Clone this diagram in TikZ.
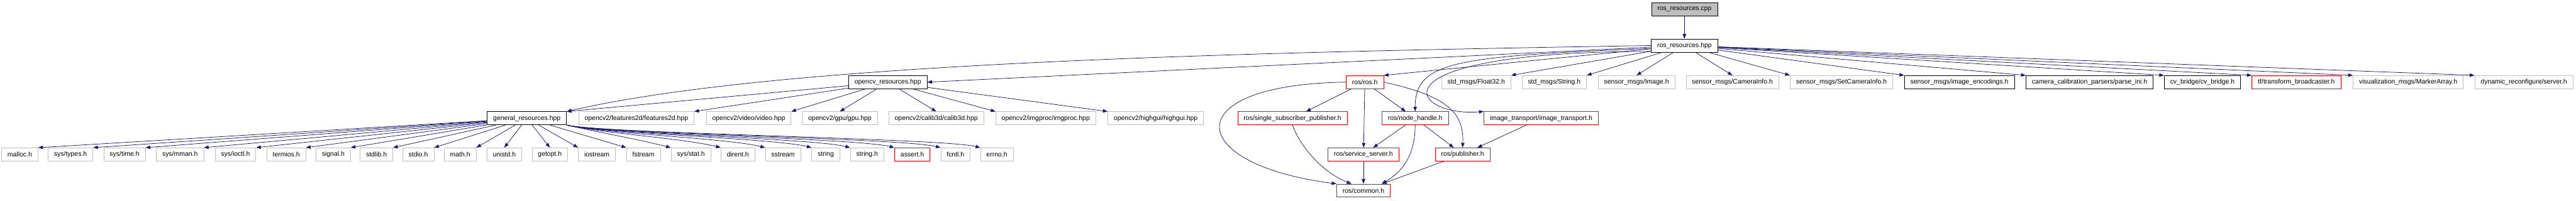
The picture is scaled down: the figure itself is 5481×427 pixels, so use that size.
\documentclass[tikz,border=0pt]{standalone}
\usepackage{fontspec}
\setmainfont{Liberation Sans}
\usetikzlibrary{arrows.meta}
\definecolor{edgeblue}{HTML}{191970}
\definecolor{extgray}{HTML}{BFBFBF}
\tikzstyle{file}   = [draw, rectangle, minimum height=21pt, inner xsep=9.5pt, inner ysep=0pt, line width=0.75pt, fill=white, font=\fontsize{10.5}{12}\selectfont]
\tikzstyle{root}   = [file, draw=black, fill=extgray]
\tikzstyle{doc}    = [file, draw=black]
\tikzstyle{ext}    = [file, draw=extgray]
\tikzstyle{trunc}  = [file, draw=red]
\tikzstyle{arrow}  = [draw=edgeblue, line width=0.75pt, ->, >={Triangle[length=7.5pt,width=5.5pt]}]

\begin{document}
\begin{tikzpicture}[x=0.75pt, y=-0.75pt]
\useasboundingbox (0,0) rectangle (5481,427);

% top
\node[root] (CPP) at (3584,20) {ros\_resources.cpp};
\node[doc]  (HPP) at (3584,97) {ros\_resources.hpp};

% direct includes of ros_resources.hpp
\node[doc]   (OCV)  at (1889,175) {opencv\_resources.hpp};
\node[trunc] (ROS)  at (2904,175) {ros/ros.h};
\node[ext]   (F32)  at (3141,175) {std\_msgs/Float32.h};
\node[ext]   (STR)  at (3307,175) {std\_msgs/String.h};
\node[ext]   (IMG)  at (3482,175) {sensor\_msgs/Image.h};
\node[ext]   (CAM)  at (3686,175) {sensor\_msgs/CameraInfo.h};
\node[ext]   (SCAM) at (3918,175) {sensor\_msgs/SetCameraInfo.h};
\node[doc]   (ENC)  at (4169,175) {sensor\_msgs/image\_encodings.h};
\node[doc]   (INI)  at (4446,175) {camera\_calibration\_parsers/parse\_ini.h};
\node[doc]   (CVB)  at (4686,175) {cv\_bridge/cv\_bridge.h};
\node[trunc] (TF)   at (4886,175) {tf/transform\_broadcaster.h};
\node[ext]   (MRK)  at (5124,175) {visualization\_msgs/MarkerArray.h};
\node[ext]   (DYN)  at (5370,175) {dynamic\_reconfigure/server.h};

% third row
\node[doc]   (GEN) at (1121,252) {general\_resources.hpp};
\node[ext]   (F2D) at (1354,252) {opencv2/features2d/features2d.hpp};
\node[ext]   (VID) at (1593,252) {opencv2/video/video.hpp};
\node[ext]   (GPU) at (1787,252) {opencv2/gpu/gpu.hpp};
\node[ext]   (C3D) at (1992,252) {opencv2/calib3d/calib3d.hpp};
\node[ext]   (IMP) at (2225,252) {opencv2/imgproc/imgproc.hpp};
\node[ext]   (HGU) at (2459,252) {opencv2/highgui/highgui.hpp};
\node[trunc] (SS)  at (2750,252) {ros/single\_subscriber\_publisher.h};
\node[trunc] (NH)  at (3011,252) {ros/node\_handle.h};
\node[trunc] (IT)  at (3279,252) {image\_transport/image\_transport.h};

% system headers
\node[ext]   (MALLOC)   at (42,329)   {malloc.h};
\node[ext]   (SYSTYPES) at (150,329)  {sys/types.h};
\node[ext]   (SYSTIME)  at (265,329)  {sys/time.h};
\node[ext]   (SYSMMAN)  at (383,329)  {sys/mman.h};
\node[ext]   (SYSIOCTL) at (501,329)  {sys/ioctl.h};
\node[ext]   (TERMIOS)  at (609,329)  {termios.h};
\node[ext]   (SIGNAL)   at (709,329)  {signal.h};
\node[ext]   (STDLIB)   at (801,329)  {stdlib.h};
\node[ext]   (STDIO)    at (890,329)  {stdio.h};
\node[ext]   (MATH)     at (979,329)  {math.h};
\node[ext]   (UNISTD)   at (1073,329) {unistd.h};
\node[ext]   (GETOPT)   at (1170,329) {getopt.h};
\node[ext]   (IOSTREAM) at (1270,329) {iostream};
\node[ext]   (FSTREAM)  at (1369,329) {fstream};
\node[ext]   (SYSSTAT)  at (1470,329) {sys/stat.h};
\node[ext]   (DIRENT)   at (1570,329) {dirent.h};
\node[ext]   (SSTREAM)  at (1666,329) {sstream};
\node[ext]   (STRING)   at (1757,329) {string};
\node[ext]   (STRINGH)  at (1845,329) {string.h};
\node[trunc] (ASSERT)   at (1941,329) {assert.h};
\node[ext]   (FCNTL)    at (2033,329) {fcntl.h};
\node[ext]   (ERRNO)    at (2121,329) {errno.h};

% ros internals
\node[trunc] (SRV) at (2901,329) {ros/service\_server.h};
\node[trunc] (PUB) at (3112,329) {ros/publisher.h};
\node[trunc] (COM) at (2901,406) {ros/common.h};

\draw[arrow] (CPP) -- (HPP);

\draw[arrow] (HPP) -- (OCV.east);
\draw[arrow] (HPP.west) .. controls (2600,112) and (1650,135) .. (GEN.north east);
\draw[arrow] (HPP) -- (ROS.north east);
\draw[arrow] (HPP.185) .. controls (3100,120) and (3011,130) .. (NH.north);
\draw[arrow] (HPP.190) .. controls (2900,110) and (3000,250) .. (IT.north west);
\draw[arrow] (HPP) -- (F32.north east);
\draw[arrow] (HPP) -- (STR.north east);
\draw[arrow] (HPP) -- (IMG.north);
\draw[arrow] (HPP) -- (CAM.north);
\draw[arrow] (HPP) -- (SCAM.north west);
\draw[arrow] (HPP) -- (ENC.north west);
\draw[arrow] (HPP) -- (INI.north west);
\draw[arrow] (HPP) -- (CVB.north west);
\draw[arrow] (HPP) -- (TF.north west);
\draw[arrow] (HPP) -- (MRK.north west);
\draw[arrow] (HPP) -- (DYN.north west);

\draw[arrow] (OCV) -- (GEN.north east);
\draw[arrow] (OCV) -- (F2D.north east);
\draw[arrow] (OCV) -- (VID.north east);
\draw[arrow] (OCV) -- (GPU.north);
\draw[arrow] (OCV) -- (C3D.north);
\draw[arrow] (OCV) -- (IMP.north west);
\draw[arrow] (OCV) -- (HGU.north west);

\draw[arrow] (GEN) -- (MALLOC.north east);
\draw[arrow] (GEN) -- (SYSTYPES.north east);
\draw[arrow] (GEN) -- (SYSTIME.north east);
\draw[arrow] (GEN) -- (SYSMMAN.north east);
\draw[arrow] (GEN) -- (SYSIOCTL.north east);
\draw[arrow] (GEN) -- (TERMIOS.north east);
\draw[arrow] (GEN) -- (SIGNAL.north east);
\draw[arrow] (GEN) -- (STDLIB.north east);
\draw[arrow] (GEN) -- (STDIO.north east);
\draw[arrow] (GEN) -- (MATH.north east);
\draw[arrow] (GEN) -- (UNISTD.north);
\draw[arrow] (GEN) -- (GETOPT.north);
\draw[arrow] (GEN) -- (IOSTREAM.north west);
\draw[arrow] (GEN) -- (FSTREAM.north west);
\draw[arrow] (GEN.south east) .. controls +(80,18) and +(-80,-20) .. (SYSSTAT.north west);
\draw[arrow] (GEN.south east) .. controls +(80,18) and +(-80,-20) .. (DIRENT.north west);
\draw[arrow] (GEN.south east) .. controls +(80,18) and +(-80,-20) .. (SSTREAM.north west);
\draw[arrow] (GEN.south east) .. controls +(80,18) and +(-80,-20) .. (STRING.north west);
\draw[arrow] (GEN.south east) .. controls +(80,18) and +(-80,-20) .. (STRINGH.north west);
\draw[arrow] (GEN.south east) .. controls +(80,18) and +(-80,-20) .. (ASSERT.north west);
\draw[arrow] (GEN.south east) .. controls +(80,18) and +(-80,-20) .. (FCNTL.north west);
\draw[arrow] (GEN.south east) .. controls +(80,18) and +(-80,-20) .. (ERRNO.north west);

\draw[arrow] (ROS) -- (SS);
\draw[arrow] (ROS) -- (SRV);
\draw[arrow] (ROS) -- (NH);
\draw[arrow] (ROS.east) .. controls (3080,205) and (3115,240) .. (PUB.north);
\draw[arrow] (ROS.west) .. controls (2500,180) and (2520,350) .. (COM.north west);

\draw[arrow] (SS.south) .. controls (2770,320) and (2820,370) .. ([xshift=24pt]COM.north west);
\draw[arrow] (NH) -- (SRV);
\draw[arrow] (NH) -- (PUB);
\draw[arrow] (NH.south) .. controls (3011,330) and (2985,365) .. ([xshift=-14pt]COM.north east);
\draw[arrow] (IT) -- (PUB);
\draw[arrow] (SRV) -- (COM);
\draw[arrow] (PUB) -- (COM);

\end{tikzpicture}
\end{document}
